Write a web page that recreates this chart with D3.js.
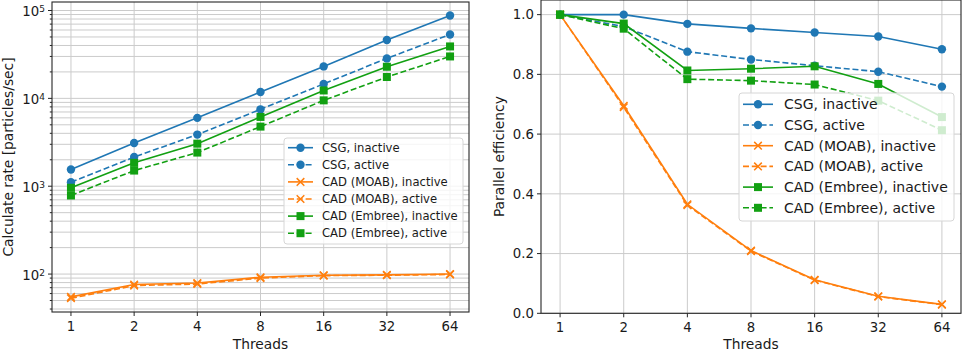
<!DOCTYPE html>
<meta charset="utf-8">
<script src="https://d3js.org/d3.v7.min.js"></script>
<style type="text/css">
body { margin: 0; background: #fff; }
svg { font-family: "DejaVu Sans", sans-serif; }
.grid line { stroke: #cbcbcb; stroke-width: 1; }
.spine { fill: none; stroke: #262626; stroke-width: 1.1; }
.ticktext { font-size: 13.3px; fill: #1a1a1a; }
.label { font-size: 13.8px; fill: #1a1a1a; }
</style>
<body>
<div id="canvas"></div>
<script>
// threads (x axis, log2)
var threads = [1, 2, 4, 8, 16, 32, 64];

var seriesNames = ["CSG, inactive", "CSG, active", "CAD (MOAB), inactive",
                   "CAD (MOAB), active", "CAD (Embree), inactive", "CAD (Embree), active"];

// calculate rate [particles/sec]
var rateCsgInactive    = [1550, 3100, 6000, 11800, 23100, 46100, 87700];
var rateCsgActive      = [1110, 2150, 3870, 7500, 14600, 28500, 53400];
var rateMoabInactive   = [55, 76, 79, 92, 97, 98, 100];
var rateMoabActive     = [53, 74, 77, 90, 96, 97, 99];
var rateEmbreeInactive = [960, 1845, 3050, 6150, 12300, 22900, 39000];
var rateEmbreeActive   = [784, 1507, 2415, 4770, 9490, 17500, 30000];

// parallel efficiency
var effCsgInactive    = [1, 1.0, 0.969, 0.954, 0.940, 0.927, 0.884];
var effCsgActive      = [1, 0.96, 0.876, 0.850, 0.829, 0.809, 0.759];
var effMoabInactive   = [1, 0.695, 0.365, 0.210, 0.112, 0.057, 0.030];
var effMoabActive     = [1, 0.690, 0.362, 0.208, 0.111, 0.056, 0.029];
var effEmbreeInactive = [1, 0.970, 0.813, 0.819, 0.827, 0.768, 0.657];
var effEmbreeActive   = [1, 0.953, 0.784, 0.779, 0.766, 0.712, 0.613];

var effTicks = [0, 0.2, 0.4, 0.6, 0.8, 1.0];
var rateTicks = [100, 1000, 10000, 100000];

var colors  = ["#1f77b4", "#1f77b4", "#ff7f0e", "#ff7f0e", "#12a012", "#12a012"];
var dashed  = [false, true, false, true, false, true];
var markers = ["circle", "circle", "x", "x", "square", "square"];

var W = 962, H = 351;
var svg = d3.select("#canvas").append("svg")
  .attr("width", W).attr("height", H);

function drawMarker(g, type, cx, cy, color) {
  if (type === "circle") {
    g.append("circle").attr("cx", cx).attr("cy", cy).attr("r", 4.2)
      .style("fill", color);
  } else if (type === "square") {
    g.append("rect").attr("x", cx - 4).attr("y", cy - 4)
      .attr("width", 8).attr("height", 8).style("fill", color);
  } else {
    var s = 3.8;
    g.append("path")
      .attr("d", "M" + (cx - s) + "," + (cy - s) + "L" + (cx + s) + "," + (cy + s) +
                 "M" + (cx - s) + "," + (cy + s) + "L" + (cx + s) + "," + (cy - s))
      .style("stroke", color).style("stroke-width", 1.5).style("fill", "none");
  }
}

function drawSeries(g, x, y, values, i) {
  var pts = threads.map(function(t, k) { return [x(t), y(values[k])]; });
  g.append("path")
    .attr("d", d3.line()(pts))
    .style("fill", "none")
    .style("stroke", colors[i])
    .style("stroke-width", 1.6)
    .style("stroke-dasharray", dashed[i] ? "6,2.8" : null);
  pts.forEach(function(p) { drawMarker(g, markers[i], p[0], p[1], colors[i]); });
}

function drawLegend(g, box, fontSize, handleX, textX) {
  g.append("rect")
    .attr("x", box.x).attr("y", box.y).attr("width", box.w).attr("height", box.h)
    .attr("rx", 3)
    .style("fill", "#fff").style("fill-opacity", 0.8)
    .style("stroke", "#d6d6d6").style("stroke-width", 1);
  seriesNames.forEach(function(name, i) {
    var yy = box.first + i * box.step;
    g.append("line")
      .attr("x1", handleX[0]).attr("x2", handleX[1]).attr("y1", yy).attr("y2", yy)
      .style("stroke", colors[i]).style("stroke-width", 1.6)
      .style("stroke-dasharray", dashed[i] ? "6,2.8" : null);
    drawMarker(g, markers[i], (handleX[0] + handleX[1]) / 2, yy, colors[i]);
    g.append("text").text(name)
      .attr("x", textX).attr("y", yy).attr("dy", "0.36em")
      .style("font-size", fontSize + "px").style("fill", "#1a1a1a");
  });
}

// ---------------- left panel: calculate rate (log) -----------------
var L = {left: 52, right: 469, top: 2, bottom: 312};
var xL = d3.scaleLog().base(2).domain([Math.pow(2, -0.3), Math.pow(2, 6.3)]).range([L.left, L.right]);
var yL = d3.scaleLog().domain([37, 125000]).range([L.bottom, L.top]);

var gl = svg.append("g");
var minorTicks = [];
[10, 100, 1000, 10000, 100000].forEach(function(d) {
  for (var m = 2; m <= 9; m++) {
    var v = d * m;
    if (v > yL.domain()[0] && v < yL.domain()[1]) minorTicks.push(v);
  }
});

var gridL = gl.append("g").attr("class", "grid");
minorTicks.concat(rateTicks).forEach(function(v) {
  gridL.append("line").attr("x1", L.left).attr("x2", L.right)
    .attr("y1", yL(v)).attr("y2", yL(v));
});
threads.forEach(function(t) {
  gridL.append("line").attr("x1", xL(t)).attr("x2", xL(t))
    .attr("y1", L.top).attr("y2", L.bottom);
});

var seriesRate = [rateCsgInactive, rateCsgActive, rateMoabInactive,
                  rateMoabActive, rateEmbreeInactive, rateEmbreeActive];
seriesRate.forEach(function(vals, i) { drawSeries(gl, xL, yL, vals, i); });

gl.append("rect").attr("class", "spine")
  .attr("x", L.left).attr("y", L.top)
  .attr("width", L.right - L.left).attr("height", L.bottom - L.top);

// ticks
threads.forEach(function(t) {
  gl.append("line").attr("x1", xL(t)).attr("x2", xL(t))
    .attr("y1", L.bottom).attr("y2", L.bottom + 4).style("stroke", "#262626");
  gl.append("text").attr("class", "ticktext").text(t)
    .attr("x", xL(t)).attr("y", L.bottom + 19).attr("text-anchor", "middle");
});
minorTicks.forEach(function(v) {
  gl.append("line").attr("x1", L.left - 2.2).attr("x2", L.left)
    .attr("y1", yL(v)).attr("y2", yL(v)).style("stroke", "#262626");
});
rateTicks.forEach(function(v) {
  gl.append("line").attr("x1", L.left - 4).attr("x2", L.left)
    .attr("y1", yL(v)).attr("y2", yL(v)).style("stroke", "#262626");
  var t = gl.append("text").attr("class", "ticktext")
    .attr("x", L.left - 7).attr("y", yL(v)).attr("dy", "0.42em")
    .attr("text-anchor", "end");
  t.append("tspan").text("10");
  t.append("tspan").text(Math.round(Math.log10(v)))
    .attr("dy", "-0.45em").style("font-size", "9px");
});

gl.append("text").attr("class", "label").text("Threads")
  .attr("x", (L.left + L.right) / 2 + 0).attr("y", 349).attr("text-anchor", "middle");
gl.append("text").attr("class", "label").text("Calculate rate [particles/sec]")
  .attr("transform", "translate(12.5," + ((L.top + L.bottom) / 2) + ") rotate(-90)")
  .attr("text-anchor", "middle");

drawLegend(gl, {x: 284, y: 138, w: 179, h: 106, first: 147.7, step: 17.1},
           11.6, [288, 313], 322);

// ---------------- right panel: parallel efficiency -----------------
var R = {left: 541, right: 961, top: 0, bottom: 313.3};
var xR = d3.scaleLog().base(2).domain([Math.pow(2, -0.3), Math.pow(2, 6.3)]).range([R.left, R.right]);
var yR = d3.scaleLinear().domain([0, 1.049]).range([R.bottom, R.top]);

var gr = svg.append("g");
var gridR = gr.append("g").attr("class", "grid");
effTicks.forEach(function(v) {
  gridR.append("line").attr("x1", R.left).attr("x2", R.right)
    .attr("y1", yR(v)).attr("y2", yR(v));
});
threads.forEach(function(t) {
  gridR.append("line").attr("x1", xR(t)).attr("x2", xR(t))
    .attr("y1", R.top).attr("y2", R.bottom);
});

var seriesEff = [effCsgInactive, effCsgActive, effMoabInactive,
                 effMoabActive, effEmbreeInactive, effEmbreeActive];
seriesEff.forEach(function(vals, i) { drawSeries(gr, xR, yR, vals, i); });

gr.append("rect").attr("class", "spine")
  .attr("x", R.left).attr("y", R.top)
  .attr("width", R.right - R.left).attr("height", R.bottom - R.top);

threads.forEach(function(t) {
  gr.append("line").attr("x1", xR(t)).attr("x2", xR(t))
    .attr("y1", R.bottom).attr("y2", R.bottom + 4).style("stroke", "#262626");
  gr.append("text").attr("class", "ticktext").text(t)
    .attr("x", xR(t)).attr("y", R.bottom + 19).attr("text-anchor", "middle");
});
effTicks.forEach(function(v) {
  gr.append("line").attr("x1", R.left - 4).attr("x2", R.left)
    .attr("y1", yR(v)).attr("y2", yR(v)).style("stroke", "#262626");
  gr.append("text").attr("class", "ticktext").text(d3.format(".1f")(v))
    .attr("x", R.left - 7).attr("y", yR(v)).attr("dy", "0.36em")
    .attr("text-anchor", "end");
});

gr.append("text").attr("class", "label").text("Threads")
  .attr("x", (R.left + R.right) / 2).attr("y", 349).attr("text-anchor", "middle");
gr.append("text").attr("class", "label").text("Parallel efficiency")
  .attr("transform", "translate(504," + ((R.top + R.bottom) / 2) + ") rotate(-90)")
  .attr("text-anchor", "middle");

drawLegend(gr, {x: 739, y: 93, w: 215, h: 128, first: 104.3, step: 20.7},
           14, [743, 773], 784);
</script>
</body>
